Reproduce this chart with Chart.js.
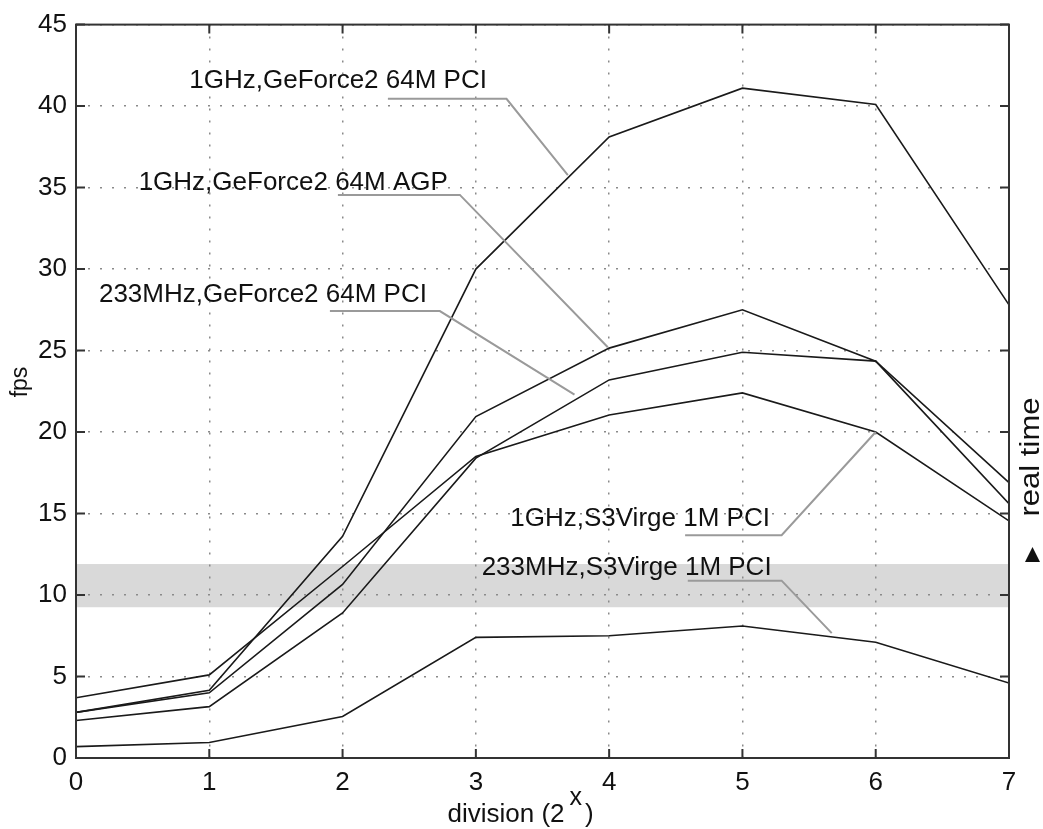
<!DOCTYPE html>
<html>
<head>
<meta charset="utf-8">
<script src="https://cdn.jsdelivr.net/npm/chart.js@4/dist/chart.umd.min.js"></script>
<style>
  html, body { margin: 0; padding: 0; background: #ffffff; }
  #wrap { width: 1043px; height: 829px; }
</style>
</head>
<body>
<div id="wrap"><canvas id="c" width="1043" height="829"></canvas></div>
<script>
// ---- data ----
const divisions = [0, 1, 2, 3, 4, 5, 6, 7];
const gf2Pci1G   = [2.8, 4.15, 13.6, 30.0, 38.1, 41.1, 40.1, 27.8];
const gf2Agp1G   = [2.8, 4.0, 10.65, 20.95, 25.15, 27.5, 24.35, 16.9];
const gf2Pci233  = [2.3, 3.15, 8.9, 18.4, 23.2, 24.9, 24.35, 15.6];
const s3Pci1G    = [3.7, 5.1, 11.75, 18.5, 21.05, 22.4, 20.0, 14.55];
const s3Pci233   = [0.7, 0.95, 2.55, 7.4, 7.5, 8.1, 7.1, 4.6];
const realTimeBand = [9.25, 11.9];
const yTicks = [0, 5, 10, 15, 20, 25, 30, 35, 40, 45];

const seriesLabels = [
  "1GHz,GeForce2 64M PCI",
  "1GHz,GeForce2 64M AGP",
  "233MHz,GeForce2 64M PCI",
  "1GHz,S3Virge 1M PCI",
  "233MHz,S3Virge 1M PCI"
];
const seriesValues = [gf2Pci1G, gf2Agp1G, gf2Pci233, s3Pci1G, s3Pci233];

// annotation text anchors (right end of text, data coords) and leader lines (data coords)
const annotTextAt = [[3.083, 41.56], [2.79, 35.27], [2.633, 28.4], [5.206, 14.65], [5.219, 11.69]];
const annotLeaders = [
  [[2.34, 40.45], [3.23, 40.45], [3.69, 35.76]],
  [[1.965, 34.55], [2.88, 34.55], [3.99, 25.2]],
  [[1.905, 27.42], [2.73, 27.42], [3.74, 22.3]],
  [[4.57, 13.67], [5.294, 13.67], [6.0, 20.0]],
  [[4.59, 10.88], [5.294, 10.88], [5.67, 7.66]]
];

const FONT = '"Liberation Sans", Arial, Helvetica, sans-serif';

const datasets = seriesValues.map((vals, i) => ({
  label: seriesLabels[i],
  data: vals.map((v, j) => ({ x: divisions[j], y: v })),
  borderColor: '#1a1a1a',
  borderWidth: 1.6,
  pointRadius: 0,
  tension: 0,
  fill: false
}));

const bandPlugin = {
  id: 'band',
  beforeDraw(chart) {
    const { ctx, chartArea: a, scales: { y } } = chart;
    const y1 = y.getPixelForValue(realTimeBand[1]);
    const y0 = y.getPixelForValue(realTimeBand[0]);
    ctx.save();
    ctx.fillStyle = '#d9d9d9';
    ctx.fillRect(a.left, y1, a.right - a.left, y0 - y1);
    ctx.restore();
  }
};

const decorPlugin = {
  id: 'decor',
  afterDraw(chart) {
    const { ctx, chartArea: a, scales: { x, y } } = chart;
    ctx.save();
    // leader lines
    ctx.strokeStyle = '#9a9a9a';
    ctx.lineWidth = 2;
    annotLeaders.forEach(pts => {
      ctx.beginPath();
      pts.forEach((p, k) => {
        const px = x.getPixelForValue(p[0]), py = y.getPixelForValue(p[1]);
        if (k === 0) ctx.moveTo(px, py); else ctx.lineTo(px, py);
      });
      ctx.stroke();
    });
    // annotation text
    ctx.fillStyle = '#111';
    ctx.font = '26px ' + FONT;
    ctx.textAlign = 'right';
    ctx.textBaseline = 'middle';
    seriesLabels.forEach((t, i) => {
      ctx.fillText(t, x.getPixelForValue(annotTextAt[i][0]), y.getPixelForValue(annotTextAt[i][1]));
    });
    // frame
    ctx.strokeStyle = '#333';
    ctx.lineWidth = 2;
    ctx.strokeRect(a.left, a.top, a.right - a.left, a.bottom - a.top);
    // inward ticks
    const tl = 9;
    ctx.beginPath();
    divisions.forEach(d => {
      const px = x.getPixelForValue(d);
      ctx.moveTo(px, a.bottom); ctx.lineTo(px, a.bottom - tl);
      ctx.moveTo(px, a.top); ctx.lineTo(px, a.top + tl);
    });
    yTicks.forEach(v => {
      const py = y.getPixelForValue(v);
      ctx.moveTo(a.left, py); ctx.lineTo(a.left + tl, py);
      ctx.moveTo(a.right, py); ctx.lineTo(a.right - tl, py);
    });
    ctx.stroke();
    // x axis title with superscript
    ctx.fillStyle = '#111';
    ctx.textAlign = 'left';
    ctx.textBaseline = 'alphabetic';
    const p1 = 'division (2', p3 = ')';
    ctx.font = '26px ' + FONT;
    const w1 = ctx.measureText(p1).width;
    ctx.font = '25px ' + FONT;
    const wx = ctx.measureText('x').width;
    const gap = 5;
    const sx = (a.left + a.right) / 2 - 95;
    const base = 822;
    ctx.font = '26px ' + FONT;
    ctx.fillText(p1, sx, base);
    ctx.font = '25px ' + FONT;
    ctx.fillText('x', sx + w1 + gap, base - 17);
    ctx.font = '26px ' + FONT;
    ctx.fillText(p3, sx + w1 + gap + wx + 3, base);
    // fps
    ctx.save();
    ctx.translate(21, 382);
    ctx.rotate(-Math.PI / 2);
    ctx.textAlign = 'center';
    ctx.textBaseline = 'middle';
    ctx.font = '23px ' + FONT;
    ctx.fillText('fps', 0, 0);
    ctx.restore();
    // real time
    ctx.save();
    ctx.translate(1032, 457);
    ctx.rotate(-Math.PI / 2);
    ctx.scale(1.15, 1);
    ctx.textAlign = 'center';
    ctx.textBaseline = 'middle';
    ctx.font = '27px ' + FONT;
    ctx.fillText('real time', 0, 0);
    ctx.restore();
    ctx.beginPath();
    ctx.moveTo(1032.5, 547);
    ctx.lineTo(1040, 562);
    ctx.lineTo(1025, 562);
    ctx.closePath();
    ctx.fill();
    ctx.restore();
  }
};

new Chart(document.getElementById('c'), {
  type: 'line',
  data: { datasets },
  options: {
    responsive: false,
    animation: false,
    events: [],
    layout: { padding: { top: 22, right: 34, left: 0, bottom: 0 } },
    plugins: { legend: { display: false }, tooltip: { enabled: false } },
    scales: {
      x: {
        type: 'linear',
        min: 0, max: 7,
        afterFit(s) { s.height = 71; },
        afterBuildTicks(s) { s.ticks = divisions.map(v => ({ value: v })); },
        ticks: { color: '#111', font: { family: FONT, size: 26 }, padding: 9, maxRotation: 0 },
        grid: { color: '#8a8a8a', lineWidth: 1.5, drawTicks: false, tickLength: 0 },
        border: { display: false, dash: [2, 10] }
      },
      y: {
        min: 0, max: 45,
        afterFit(s) { s.width = 76; },
        afterBuildTicks(s) { s.ticks = yTicks.map(v => ({ value: v })); },
        ticks: { color: '#111', font: { family: FONT, size: 26 }, padding: 9 },
        grid: { color: '#8a8a8a', lineWidth: 1.5, drawTicks: false, tickLength: 0 },
        border: { display: false, dash: [2, 10] }
      }
    }
  },
  plugins: [bandPlugin, decorPlugin]
});
</script>
</body>
</html>
